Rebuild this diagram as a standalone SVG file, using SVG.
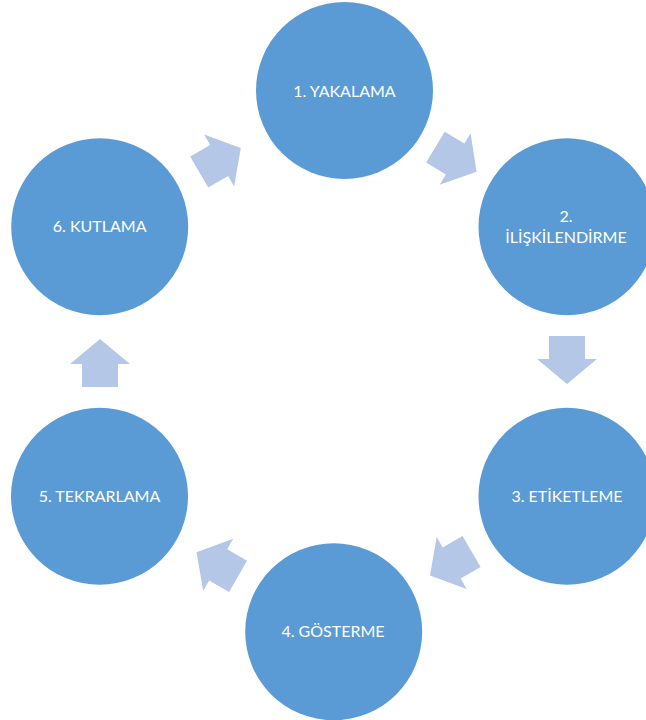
<svg xmlns="http://www.w3.org/2000/svg" width="646" height="720" viewBox="0 0 646 720">
<style>
.c{fill:#5B9BD5}
.t{fill:#FFFFFF;font-family:Lato,"Open Sans","Liberation Sans",sans-serif;font-size:16px;text-anchor:middle}
.a{fill:#B4C7E7}
</style>
<defs>
<polygon id="arr" points="-24,-18 -1,-18 -1,-30 24,0 -1,30 -1,18 -24,18"/>
</defs>
<rect width="646" height="720" fill="#FFFFFF"/>
<g id="connectors">
<use href="#arr" class="a" transform="translate(220,160) rotate(-30)"/>
<use href="#arr" class="a" transform="translate(456,159.5) rotate(31)"/>
<use href="#arr" class="a" transform="translate(567,360) rotate(90)"/>
<use href="#arr" class="a" transform="translate(450.8,563.5) rotate(150)"/>
<use href="#arr" class="a" transform="translate(217.3,564.3) rotate(210)"/>
<use href="#arr" class="a" transform="translate(100,363) rotate(-90)"/>
</g>
<g id="n1"><circle class="c" cx="344.5" cy="90.5" r="88.5"/><text class="t" x="344.5" y="97">1. YAKALAMA</text></g>
<g id="n2"><circle class="c" cx="567" cy="226.7" r="88.5"/><text class="t" x="566" y="221.5">2.</text><text class="t" x="566" y="242.5">İLİŞKİLENDİRME</text></g>
<g id="n3"><circle class="c" cx="567" cy="496.3" r="88.5"/><text class="t" x="567" y="501.7">3. ETİKETLEME</text></g>
<g id="n4"><circle class="c" cx="333.7" cy="631.8" r="88.5"/><text class="t" x="333" y="636.7">4. GÖSTERME</text></g>
<g id="n5"><circle class="c" cx="99.5" cy="496.3" r="88.5"/><text class="t" x="99.5" y="501.7">5. TEKRARLAMA</text></g>
<g id="n6"><circle class="c" cx="99.7" cy="226.7" r="88.5"/><text class="t" x="99.7" y="231.7">6. KUTLAMA</text></g>
</svg>
